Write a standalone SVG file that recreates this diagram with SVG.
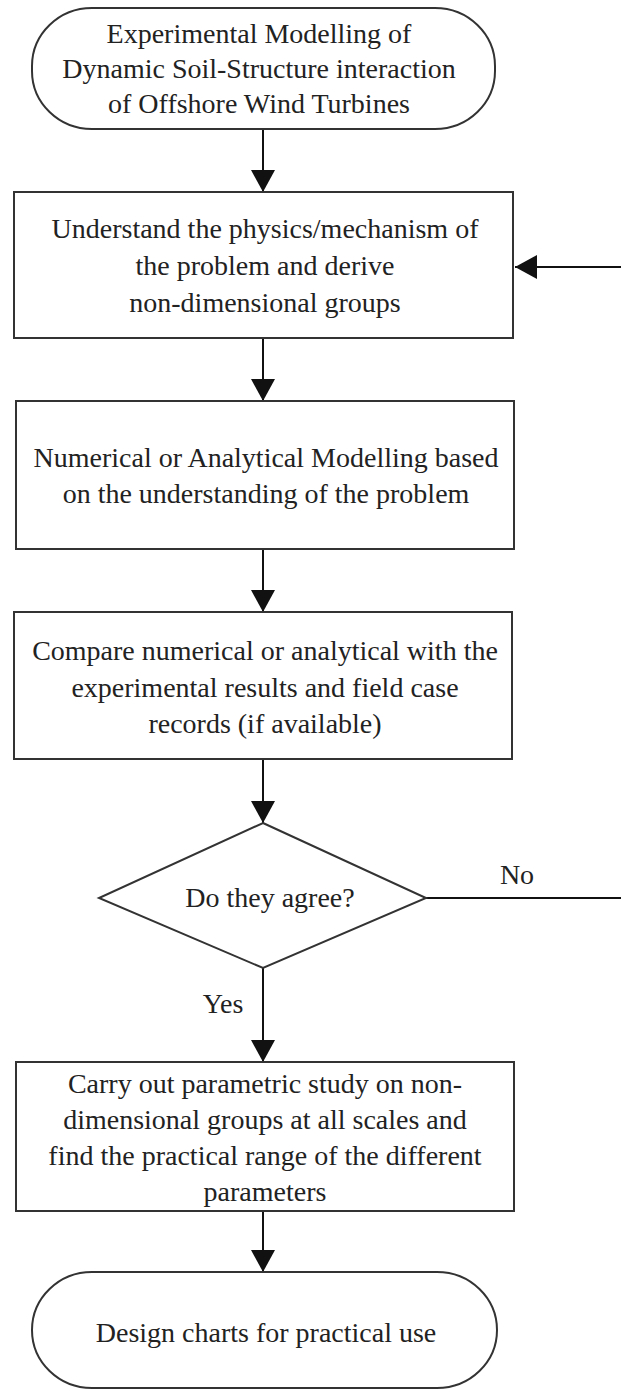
<svg xmlns="http://www.w3.org/2000/svg" width="621" height="1389" viewBox="0 0 621 1389">
<style>
.node{fill:#fff;stroke:#333;stroke-width:2}
.t{font-family:"Liberation Serif","Times New Roman",serif;font-size:28px;fill:#222;text-anchor:middle}
.c{fill:none;stroke:#111;stroke-width:2}
</style>
<defs>
<marker id="ah" markerUnits="userSpaceOnUse" markerWidth="22" markerHeight="24" refX="22" refY="12" orient="auto">
<path d="M0,0 L22,12 L0,24 Z" fill="#111"/>
</marker>
</defs>
<rect width="621" height="1389" fill="#fff"/>
<g id="connectors">
<line class="c" x1="263" y1="129" x2="263" y2="192" marker-end="url(#ah)"/>
<line class="c" x1="263" y1="338" x2="263" y2="401" marker-end="url(#ah)"/>
<line class="c" x1="263" y1="549" x2="263" y2="612" marker-end="url(#ah)"/>
<line class="c" x1="263" y1="759" x2="263" y2="823" marker-end="url(#ah)"/>
<line class="c" x1="263" y1="968" x2="263" y2="1062" marker-end="url(#ah)"/>
<line class="c" x1="263" y1="1211" x2="263" y2="1272" marker-end="url(#ah)"/>
<polyline class="c" points="426,898 624,898 624,267 515,267" marker-end="url(#ah)"/>
<text class="t" x="517" y="884">No</text>
<text class="t" x="223" y="1013">Yes</text>
</g>
<g id="start">
<rect class="node" x="32" y="8" width="463" height="121" rx="60" ry="58"/>
<text class="t" x="259" y="43">Experimental Modelling of</text>
<text class="t" x="259" y="78">Dynamic Soil-Structure interaction</text>
<text class="t" x="259" y="113">of Offshore Wind Turbines</text>
</g>
<g id="understand">
<rect class="node" x="14" y="192" width="499" height="146"/>
<text class="t" x="265" y="238">Understand the physics/mechanism of</text>
<text class="t" x="265" y="275">the problem and derive</text>
<text class="t" x="265" y="312">non-dimensional groups</text>
</g>
<g id="modelling">
<rect class="node" x="16" y="401" width="498" height="148"/>
<text class="t" x="266" y="467">Numerical or Analytical Modelling based</text>
<text class="t" x="266" y="503">on the understanding of the problem</text>
</g>
<g id="compare">
<rect class="node" x="14" y="612" width="498" height="147"/>
<text class="t" x="265" y="660">Compare numerical or analytical with the</text>
<text class="t" x="265" y="697">experimental results and field case</text>
<text class="t" x="265" y="733">records (if available)</text>
</g>
<g id="decision">
<polygon class="node" points="263,823 426,898 263,968 99,898"/>
<text class="t" x="270" y="907">Do they agree?</text>
</g>
<g id="parametric">
<rect class="node" x="16" y="1062" width="498" height="149"/>
<text class="t" x="265" y="1093">Carry out parametric study on non-</text>
<text class="t" x="265" y="1129">dimensional groups at all scales and</text>
<text class="t" x="265" y="1165">find the practical range of the different</text>
<text class="t" x="265" y="1201">parameters</text>
</g>
<g id="end">
<rect class="node" x="32" y="1272" width="465" height="116" rx="60" ry="58"/>
<text class="t" x="266" y="1342">Design charts for practical use</text>
</g>
</svg>
